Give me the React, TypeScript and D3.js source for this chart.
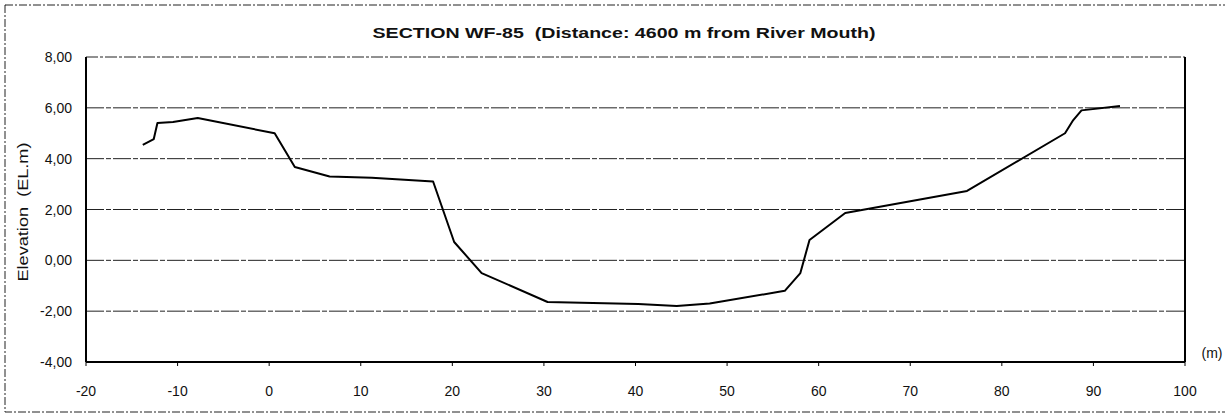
import React from "react";
import * as d3 from "d3";

const distance: number[] = [-13.8, -12.6, -12.2, -10.5, -7.8, 0.6, 2.8, 6.6, 11.2, 17.9, 20.2, 23.2, 30.4, 40.3, 44.5, 48.1, 56.3, 58.0, 59.0, 62.9, 76.2, 86.9, 87.8, 88.7, 92.9];
const elevation: number[] = [4.54, 4.77, 5.4, 5.44, 5.6, 5.0, 3.67, 3.3, 3.25, 3.1, 0.72, -0.5, -1.64, -1.72, -1.8, -1.7, -1.2, -0.5, 0.8, 1.86, 2.73, 5.0, 5.52, 5.9, 6.07];
const xTicks: number[] = [-20, -10, 0, 10, 20, 30, 40, 50, 60, 70, 80, 90, 100];
const yTicks: number[] = [8, 6, 4, 2, 0, -2, -4];
const yTickLabels: string[] = ["8,00", "6,00", "4,00", "2,00", "0,00", "-2,00", "-4,00"];
const title = "SECTION WF-85  (Distance: 4600 m from River Mouth)";
const yTitle = "Elevation  (EL.m)";
const xUnit = "(m)";

const W = 1225;
const H = 416;
const L = 86, R = 1185, T = 57, B = 362;

export default function App() {
  const x = d3.scaleLinear().domain([-20, 100]).range([L, R]);
  const y = d3.scaleLinear().domain([-4, 8]).range([B, T]);
  const pts = distance.map((d, i) => [d, elevation[i]] as [number, number]);
  const line = d3.line<[number, number]>().x((d) => x(d[0])).y((d) => y(d[1]));
  const font = "'Liberation Sans', Arial, sans-serif";
  return (
    <svg width={W} height={H} style={{ position: "absolute", left: 0, top: 0, background: "#fff" }} fontFamily={font}>
      <rect x={0} y={0} width={W} height={H} fill="#fff" />
      {/* outer frame */}
      <rect x={5} y={5} width={W + 10} height={407} fill="none" stroke="#222" strokeWidth={1} strokeDasharray="8,2,2,2" />
      {/* title */}
      <text x={624} y={38} textAnchor="middle" fontSize={14.5} fontWeight="bold" fill="#111" textLength={503} lengthAdjust="spacingAndGlyphs" style={{ whiteSpace: "pre" }}>{title}</text>
      {/* gridlines */}
      {yTicks.filter((t) => t !== 8 && t !== -4).map((t) => (
        <line key={t} x1={L} x2={R} y1={y(t)} y2={y(t)} stroke="#222" strokeWidth={1} strokeDasharray="18,2,5,2" />
      ))}
      {/* top border */}
      <line x1={L} x2={R} y1={T} y2={T} stroke="#222" strokeWidth={1} strokeDasharray="12,2,3,2" />
      {/* left, bottom, right axes */}
      <line x1={L} x2={L} y1={T} y2={B} stroke="#000" strokeWidth={2} />
      <line x1={L} x2={R} y1={B} y2={B} stroke="#000" strokeWidth={2} />
      <line x1={R} x2={R} y1={T} y2={B} stroke="#000" strokeWidth={2} />
      {/* x ticks */}
      {xTicks.map((t) => (
        <g key={t}>
          <line x1={x(t)} x2={x(t)} y1={B} y2={B + 4} stroke="#000" strokeWidth={1} />
          <text x={x(t)} y={396} textAnchor="middle" fontSize={14} fill="#111">{t}</text>
        </g>
      ))}
      {/* y tick labels */}
      {yTicks.map((t, i) => (
        <text key={t} x={72} y={y(t) + 5} textAnchor="end" fontSize={14} fill="#111">{yTickLabels[i]}</text>
      ))}
      <text transform={`translate(28,212) rotate(-90)`} textAnchor="middle" fontSize={15} fill="#111" textLength={139} lengthAdjust="spacingAndGlyphs" style={{ whiteSpace: "pre" }}>{yTitle}</text>
      <text x={1212} y={358} textAnchor="middle" fontSize={14} fill="#111">{xUnit}</text>
      {/* section profile */}
      <path d={line(pts) || ""} fill="none" stroke="#000" strokeWidth={2} strokeLinejoin="round" />
    </svg>
  );
}
